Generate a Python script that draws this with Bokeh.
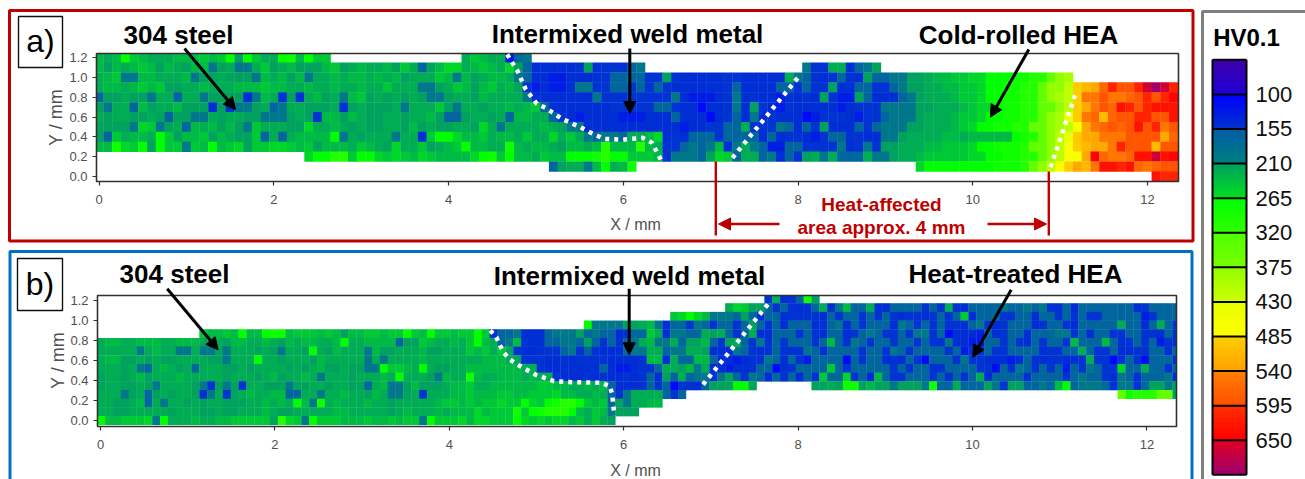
import numpy as np
from bokeh.embed import file_html
from bokeh.resources import INLINE
from bokeh.plotting import figure
from bokeh.models import (Range1d, Label, Arrow, NormalHead, FixedTicker, NumeralTickFormatter,
                          LinearColorMapper, ColumnDataSource, LinearAxis)
from bokeh.transform import transform

FONT = "Liberation Sans"

# Hardness levels: each character of a row stands for one cell
LEVELS = {'1': 110, '2': 130, '3': 148, '4': 153, '5': 170, '6': 195, '7': 212, '8': 220, '9': 232,
          'a': 245, 'b': 256, 'c': 266, 'd': 282, 'e': 305, 'f': 345, 'g': 375, 'h': 395, 'i': 415,
          'j': 440, 'k': 465, 'l': 490, 'm': 510, 'n': 530, 'o': 550, 'p': 570, 'q': 590, 'r': 610,
          's': 630, 't': 648, 'u': 665, 'v': 680, 'w': 700}

# Panel a: 13 rows, top (Y 1.2) to bottom (Y 0.0), X = 0.0, 0.1, ...
a_rows = [
 "989ca98889 99a9ac7ca8 8cd9caa... .......... ..8a988256",
 "97989a9798 799678668a 7897779a78 98897a8579 bb89a98b75 3333347444 456....... .......... .644883567",
 "89a6699888 9677877769 8979688989 989897888a 9697899865 3322333445 5554474333 3344333338 6543454375 56677899aa bbcccddeef gh",
 "89989a9a77 889888999a 9988988988 988a888667 8a979a8974 2322366445 5454543333 3345333355 4544733554 456778899a abccddeefg gilmnprqqr uwur",
 "5778776885 8867777369 8474897869 a787878766 7887988886 3333333644 4444446322 2346343324 3437422753 335678889a abccddeefg hilooqoopq rqrt",
 "7688597889 7773746678 5688777847 877786888a 7688788989 a533333334 4444554331 3346374324 3333323444 6666778889 abbcddeeff gilnoqpsrq rsss",
 "8788778757 7668788776 6678749979 8778878897 5578878599 8854323333 2223335333 1345363433 3124443244 566678889a abccddeefg hjlopmpqqr rqqs",
 "77776ba678 59897976a8 8877b88987 8778879787 7887b86888 8987663333 3333333233 4455844465 3547333545 666778889a bccddeeffg hiknopqpqs qroq",
 "75a8998ca7 99a79877a5 8589999c68 78886883ac cb99a8998a 88b8a86566 5889b34355 5455553534 4324554433 6678888998 99999cdefg ijlnnoooqq qqnp",
 "99dbac7caa 6a9c9ab7aa bba9a79998 a987b88a78 9ac9988d98 99879989e9 99e9844565 6936865225 5444463464 7788899aaa bccdddeffg iklmnnorqq qmqq",
 ".......... .......... ....bcceea ccbaba9ba9 999bcdac99 8a99cccdec caaa946665 7ba5885635 4786855586 67889aaaaa bbccddeefg ikkntpoops sust",
 ".......... .......... .......... .......... .......... ..578869c8 9d........ .......... .......... ....bccccc cccdddefgi klnmossrsp opqq",
 ".......... .......... .......... .......... .......... .......... .......... .......... .......... .......... .......... .......... .srr",
]

# Panel b: 15 rows, top to bottom, X = 0.01, 0.10, ...
b_rows = [
 ".......... .......... .......... .......... .......... .......... .......... .......... .....48345 d7",
 ".......... .......... .......... .......... .......... .......... .......... .......... 8ba7754543 4583695584 3555545484 3555565565 6445355555 55345555",
 ".......... .......... .......... .......... .......... .......... .......... ...abcb966 6575455344 4435455454 5434434545 a355544553 5545454455 55524555",
 ".......... .......... .......... .......... .......... .......... ..c6666778 9645546545 5457545355 5345635455 5365454544 3564345553 4554355555 85535854",
 ".......... ...a99a9c9 9cdd9aaa9a 9799aa9aac a9caa9aaca 3556333566 6756553355 a836655878 5458335554 5435534565 4454664513 3325345535 5566453554 45544353",
 "8998899988 9997887998 8987989988 9c88999957 7a98898ac9 8569433556 6575454568 9668577954 7854645455 5459546545 5455454463 3225545435 4554955595 34545243",
 "8888868988 6686676888 7876887c87 9888697788 8977888a9a 8a74334445 6454333566 8856688733 3654345444 6545555455 4654555545 2445445555 3445585445 33445535",
 "8997787877 8888776888 c887888798 8888686888 8988888889 9987444334 3444433334 9938559953 3234465354 2555515455 3435415554 6443332354 3443348441 45415554",
 "8887865898 7858887787 8888787897 787766caa9 8c87788999 9999884333 3333532234 4588796833 2334551345 555a545555 5454553455 5544154654 5452546544 b5585545",
 "7887897888 9888887888 7897889868 88788898c8 8876988d98 8999898843 3343433434 5375856646 7546535453 54a55b4539 5445554535 4583555545 5554565543 65455563",
 "7887787688 8876476748 8777677887 8877589667 9777899a88 999999aa99 8898953334 5451443577 7cc7...... .7787dd797 767776d558 5557647755 659c566654 66457767",
 "8886785787 8874684789 8899558868 8988798667 8488899a99 9aa99aaab9 9889854688 88545..... .......... .......... .......... .......... .......... fdeeeff7",
 "8877895868 8787887778 89898c96d8 9888988788 8889aa9a9a abaacbacde eca9a57688 99",
 "8877888887 8887787788 8987788888 9988888789 88898999b9 aaadacdeee c98a96777.",
 "c99aaab6c8 8898899aaa aa7eba6caa a999a99a9a a6caaab9bb aaacbababb 9a8a87....",
]

bar_ticks = [100, 155, 210, 265, 320, 375, 430, 485, 540, 595, 650]
bar_bounds = [45, 100, 155, 210, 265, 320, 375, 430, 485, 540, 595, 650, 705]
bar_colors = [("#4000a8", "#2000d8"), ("#0000ff", "#0034d0"), ("#005ca8", "#008080"), ("#00a060", "#00e020"),
              ("#00ff00", "#30ff00"), ("#50ff00", "#78ff00"), ("#90ff00", "#d0ff00"), ("#e8ff00", "#ffff00"),
              ("#ffd000", "#ffa000"), ("#ff8000", "#ff5000"), ("#ff3000", "#ff0000"), ("#e00020", "#a00070")]
x_ticks = [0, 2, 4, 6, 8, 10, 12]
y_ticks = [0.0, 0.2, 0.4, 0.6, 0.8, 1.0, 1.2]


def rgb(h):
    return tuple(int(h[i:i + 2], 16) for i in (1, 3, 5))


def hex_mix(c0, c1, t):
    a, b = rgb(c0), rgb(c1)
    return "#%02x%02x%02x" % tuple(round(a[i] + (b[i] - a[i]) * t) for i in range(3))


palette = []
for c0, c1 in bar_colors:
    for s in range(55):
        palette.append(hex_mix(c0, c1, s / 54))
mapper = LinearColorMapper(palette=palette, low=45, high=705)

# The figure's frame fills the window; its default ranges run in window pixels and hold the
# decoration, the extra ranges place each panel's data.
p = figure(width=1305, height=479, output_backend="svg", toolbar_location=None,
           x_range=Range1d(0, 1305), y_range=Range1d(479, 0), x_axis_type=None, y_axis_type=None,
           min_border=0, min_border_left=0, min_border_right=0, min_border_top=0, min_border_bottom=0)
p.grid.visible = False
p.outline_line_color = None


def panel(name, rows, xc0, dx, ytop, dy, x_px, y_px, frame):
    X0, SX = x_px
    Y0, SY = y_px
    L, R, T, B = frame
    xn, yn = name + "x", name + "y"
    p.extra_x_ranges[xn] = Range1d((0 - X0) / SX, (1305 - X0) / SX)
    p.extra_y_ranges[yn] = Range1d((Y0 - 479) / SY, Y0 / SY)
    xlo, xhi, ylo, yhi = (L - X0) / SX, (R - X0) / SX, (Y0 - B) / SY, (Y0 - T) / SY
    le, ri, to, bo, vs = [], [], [], [], []
    for r, txt_row in enumerate(rows):
        for c, ch in enumerate(txt_row.replace(" ", "")):
            if ch != ".":
                xc, yc = xc0 + dx * c, ytop - dy * r
                le.append(max(xc - dx * 0.52, xlo))
                ri.append(min(xc + dx * 0.52, xhi))
                to.append(min(yc + dy * 0.52, yhi))
                bo.append(max(yc - dy * 0.52, ylo))
                vs.append(LEVELS[ch])
    src = ColumnDataSource(dict(left=le, right=ri, top=to, bottom=bo, v=vs))
    p.quad(left="left", right="right", top="top", bottom="bottom", source=src, x_range_name=xn, y_range_name=yn,
           fill_color=transform("v", mapper), line_color=None)
    p.quad(left=L, right=R, top=T, bottom=B, fill_color=None, line_color="#303030", line_width=1.6)
    xax = LinearAxis(x_range_name=xn, y_range_name=yn, fixed_location=ylo)
    yax = LinearAxis(x_range_name=xn, y_range_name=yn, fixed_location=xlo)
    for ax, ticks in ((xax, x_ticks), (yax, y_ticks)):
        ax.ticker = FixedTicker(ticks=ticks)
        ax.minor_tick_line_color = None
        ax.major_tick_in = 0
        ax.major_tick_out = 4
        ax.major_tick_line_color = "#303030"
        ax.major_tick_line_width = 1.2
        ax.axis_line_color = None
        ax.major_label_text_font = FONT
        ax.major_label_text_font_size = "13px"
        ax.major_label_text_color = "#505050"
    xax.formatter = NumeralTickFormatter(format="0")
    yax.formatter = NumeralTickFormatter(format="0.0")
    xax.major_label_standoff = 9
    yax.major_label_standoff = 5
    p.add_layout(xax, "below")
    p.add_layout(yax, "left")
    return xn, yn


def seg(x0, y0, x1, y1, color, w, head=False):
    end = NormalHead(size=12, fill_color=color, line_color=color, line_width=1) if head else None
    p.add_layout(Arrow(end=end, x_start=x0, y_start=y0, x_end=x1, y_end=y1, line_color=color, line_width=w))


def txt(x, y, s, size, bold=True, color="black", angle=0):
    p.add_layout(Label(x=x, y=y, text=s, text_font=FONT, text_font_size=f"{size}px", angle=angle, angle_units="deg",
                       text_font_style="bold" if bold else "normal", text_color=color,
                       text_align="center", text_baseline="middle"))


def tag(x0, y0, x1, y1, s):
    p.quad(left=x0, right=x1, top=y0, bottom=y1, fill_color="white", line_color="#101010", line_width=1.4)
    txt((x0 + x1) / 2, (y0 + y1) / 2 - 1, s, 32, bold=False)


DOTS = dict(line_color="white", line_width=4.5, line_dash="4 5")
GREY = "#505050"

# Panel a ------------------------------------------------------------------
an, am = panel("a", a_rows, 0.0, 0.1, 1.2, 0.1, (98.7, 87.35), (176.0, 98.9), (96, 1178, 53, 181))
p.quad(left=9, right=1192.5, top=10, bottom=240.5, fill_color=None, line_color="#c00000", line_width=3)
tag(18, 16, 62, 67, "a)")
txt(178, 34, "304 steel", 26)
txt(627, 33, "Intermixed weld metal", 26)
txt(1018, 34, "Cold-rolled HEA", 26)
seg(184, 48, 235, 109, "black", 3, True)
seg(629.3, 48, 629.3, 113, "black", 3, True)
seg(1028.3, 49, 990, 116.7, "black", 3, True)
p.line([4.67, 4.79, 4.88, 5.01, 5.11, 5.30, 5.49, 5.68, 5.78, 5.99, 6.22, 6.33, 6.43],
       [1.234, 1.065, 0.887, 0.735, 0.695, 0.583, 0.506, 0.42, 0.381, 0.371, 0.391, 0.34, 0.169],
       x_range_name=an, y_range_name=am, **DOTS)
p.line([7.25, 8.01], [0.189, 1.011], x_range_name=an, y_range_name=am, **DOTS)
p.line([10.89, 11.18], [0.094, 0.842], x_range_name=an, y_range_name=am, **DOTS)
seg(715.3, 161, 715.3, 235, "#c00000", 2.4)
seg(1048.3, 171, 1048.3, 235, "#c00000", 2.4)
seg(779, 223.5, 718, 223.5, "#c00000", 2.4, True)
seg(987, 223.5, 1046, 223.5, "#c00000", 2.4, True)
txt(881, 204, "Heat-affected", 19, color="#c00000")
txt(881, 227, "area approx. 4 mm", 19, color="#c00000")
txt(635, 224, "X / mm", 16, bold=False, color=GREY)
txt(55, 117, "Y / mm", 18, bold=False, color=GREY, angle=90)

# Panel b ------------------------------------------------------------------
bn, bm = panel("b", b_rows, 0.01, 0.09, 1.214, 0.0865, (100.0, 87.2), (420.3, 100.3), (97, 1176, 295, 426))
p.quad(left=9.5, right=1191.5, top=251, bottom=490, fill_color=None, line_color="#0070c0", line_width=3)
tag(17, 258, 62, 310, "b)")
txt(174, 273, "304 steel", 26)
txt(629, 275, "Intermixed weld metal", 26)
txt(1015, 273, "Heat-treated HEA", 26)
seg(166.7, 288.3, 217.7, 349.3, "black", 3, True)
seg(628.7, 288.3, 628.7, 354.3, "black", 3, True)
seg(1010.7, 289.3, 972.3, 356.7, "black", 3, True)
p.line([4.47, 4.54, 4.58, 4.63, 4.70, 4.80, 4.99, 5.20, 5.42, 5.74, 5.84, 5.87, 5.88, 5.90],
       [0.90, 0.834, 0.751, 0.674, 0.608, 0.551, 0.459, 0.395, 0.385, 0.379, 0.345, 0.259, 0.146, 0.053],
       x_range_name=bn, y_range_name=bm, **DOTS)
p.line([6.91, 7.68], [0.362, 1.19], x_range_name=bn, y_range_name=bm, **DOTS)
txt(635, 470, "X / mm", 16, bold=False, color=GREY)
txt(57, 360, "Y / mm", 18, bold=False, color=GREY, angle=90)

# Colour bar ---------------------------------------------------------------
PX_PER_HV = 415.0 / 660.0
p.extra_y_ranges["bar"] = Range1d(45 + (479 - 59.3) / PX_PER_HV, 45 - 59.3 / PX_PER_HV)
ramp = np.arange(45.5, 705.0, 1.0).reshape(-1, 1)
p.image(image=[ramp], x=1212, y=45, dw=34, dh=660, y_range_name="bar", color_mapper=mapper)
p.segment(x0=[1212] * 13, x1=[1246] * 13, y0=bar_bounds, y1=bar_bounds, y_range_name="bar",
          line_color="black", line_width=2)
p.segment(x0=[1212, 1246], x1=[1212, 1246], y0=[45, 45], y1=[705, 705], y_range_name="bar",
          line_color="black", line_width=2)
cax = LinearAxis(y_range_name="bar", fixed_location=1246)
cax.ticker = FixedTicker(ticks=bar_ticks)
cax.axis_line_color = None
cax.major_tick_line_color = None
cax.minor_tick_line_color = None
cax.major_label_standoff = 3
cax.major_label_text_font = FONT
cax.major_label_text_font_size = "22px"
cax.major_label_text_color = "#101010"
p.add_layout(cax, "right")
p.quad(left=1202, right=1320, top=11, bottom=490, fill_color=None, line_color="#808080", line_width=3)
txt(1246, 37, "HV0.1", 24)

open("out.html", "w").write(file_html(p, INLINE))
